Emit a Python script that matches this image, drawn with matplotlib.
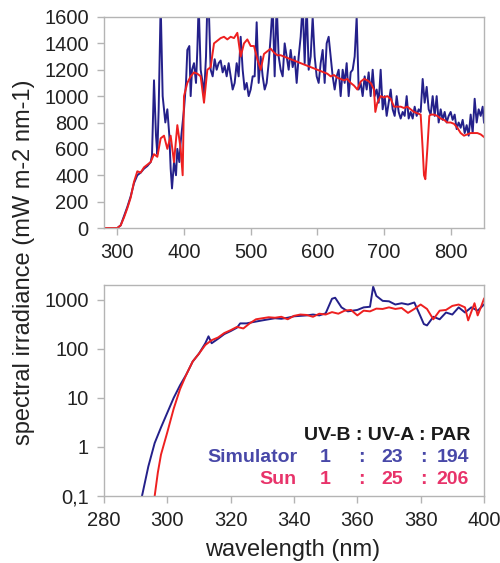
import matplotlib
matplotlib.use("Agg")
import matplotlib.pyplot as plt
from matplotlib.ticker import FixedLocator, FixedFormatter

plt.rcParams['font.family'] = ['Liberation Sans', 'DejaVu Sans']

# --- widmo pelne (280-850 nm), mW m-2 nm-1 ---
sun_wl = [280, 285, 290, 295, 300, 305, 310, 315, 320, 325, 330, 335, 340, 345, 350,
          355, 360, 365, 370, 375, 380, 385, 390, 395, 398, 400, 405, 410, 415, 420,
          425, 430, 435, 440, 445, 450, 455, 460, 465, 470, 475, 480, 485, 490, 495,
          500, 505, 510, 515, 520, 525, 530, 535, 540, 545, 550, 555, 560, 565, 570,
          575, 580, 585, 590, 595, 600, 605, 610, 615, 620, 625, 630, 635, 640, 645,
          650, 655, 660, 665, 670, 675, 680, 685, 687, 690, 695, 700, 705, 710, 715,
          720, 725, 730, 735, 740, 745, 750, 755, 758, 760, 762, 765, 768, 770, 775,
          780, 785, 790, 795, 800, 805, 810, 815, 820, 825, 830, 835, 840, 845, 850]
sun_top = [0, 0, 0, 0, 0, 20, 80, 150, 230, 350, 430, 420, 460, 480, 500,
           560, 540, 680, 700, 600, 700, 500, 780, 600, 400, 1000, 1100, 1150, 1180, 1170,
           1150, 950, 1200, 1220, 1400, 1420, 1440, 1450, 1430, 1450, 1440, 1480, 1300, 1400, 1430,
           1380, 1380, 1280, 1200, 1320, 1340, 1360, 1330, 1310, 1310, 1300, 1290, 1280, 1270, 1260,
           1250, 1240, 1230, 1220, 1210, 1200, 1190, 1180, 1170, 1150, 1160, 1140, 1130, 1120, 1130,
           1100, 1080, 1050, 1110, 1130, 1120, 1100, 1050, 880, 950, 1000, 990, 1000, 980, 920,
           920, 920, 910, 920, 900, 880, 870, 860, 600, 400, 370, 600, 850, 860, 860,
           850, 830, 820, 800, 800, 790, 760, 720, 700, 710, 720, 720, 720, 710, 690]

sim_wl = [280, 300, 305, 310, 315, 320, 325, 330, 335, 340, 345, 350, 352, 355, 358,
          360, 362, 365, 368, 370, 372, 375, 378, 380, 382, 385, 388, 390, 393, 395,
          398, 400, 403, 405, 408, 410, 412, 415, 418, 420, 422, 425, 428, 430, 433,
          435, 437, 440, 443, 446, 449, 452, 455, 458, 461, 464, 467, 470, 473, 476,
          479, 482, 485, 488, 491, 494, 497, 500, 503, 506, 509, 512, 515, 518, 521,
          524, 527, 530, 533, 536, 539, 542, 545, 548, 551, 554, 557, 560, 563, 566,
          569, 572, 575, 578, 581, 584, 587, 590, 593, 596, 599, 602, 605, 608, 611,
          614, 617, 620, 623, 626, 629, 632, 635, 638, 641, 644, 647, 650, 653, 656,
          659, 662, 665, 668, 671, 674, 677, 680, 683, 686, 689, 692, 695, 698, 701,
          704, 707, 710, 713, 716, 719, 722, 725, 728, 731, 734, 737, 740, 743, 746,
          749, 752, 755, 758, 761, 764, 767, 770, 773, 776, 779, 782, 785, 788, 791,
          794, 797, 800, 803, 806, 809, 812, 815, 818, 821, 824, 827, 830, 833, 836,
          839, 842, 845, 848, 850]
sim_top = [0, 0, 20, 90, 160, 240, 340, 400, 420, 450, 470, 500, 550, 1120, 700,
           560, 900, 1700, 1000, 900, 800, 900, 700, 450, 300, 500, 400, 600, 500, 650,
           800, 900, 1100, 1350, 1380, 1000, 1200, 1250, 1100, 1350, 1700, 1200, 1100, 1000, 1300,
           1700, 1700, 1200, 1150, 1280, 1200, 1250, 1270, 1180, 1230, 1150, 1250, 1150, 1050, 1100,
           1250, 1150, 1450, 1200, 1050, 1100, 1000, 1050, 1150, 1150, 1560, 1100, 1300, 1150, 1050,
           1100, 1250, 1450, 1700, 1150, 1700, 1300, 1200, 1150, 1400, 1300, 1200, 1350, 1220, 1300,
           1100, 1300, 1450, 1700, 1250, 1700, 1200, 1300, 1600, 1300, 1150, 1100, 1250, 1350, 1100,
           1400, 1450, 1300, 1150, 1050, 1150, 1200, 1000, 1200, 1100, 1250, 1000, 1180, 1200, 1300,
           1600, 1050, 1100, 1000, 1150, 1050, 1180, 1000, 1200, 1000, 1050, 950, 1200, 900, 1000,
           850, 950, 1050, 900, 850, 1000, 880, 830, 880, 850, 1000, 830, 880, 830, 920,
           850, 900, 880, 1130, 950, 1070, 900, 860, 1000, 850, 1000, 800, 900, 820, 880,
           800, 850, 880, 820, 860, 750, 800, 760, 820, 720, 780, 700, 860, 720, 980,
           800, 900, 850, 920, 800]

# --- UV (280-400 nm), skala log ---
sim_uv_wl = [292, 294, 296, 298, 300, 302, 304, 306, 308, 310, 312, 313, 314, 316, 318,
             320, 322, 323, 325, 327, 330, 332, 334, 336, 338, 340, 342, 344, 346, 348,
             350, 352, 353, 355, 357, 360, 362, 364, 365, 366, 368, 370, 372, 374, 376,
             378, 380, 381, 382, 384, 386, 388, 390, 392, 394, 396, 398, 400]
sim_uv = [0.1, 0.4, 1.2, 2.5, 5, 10, 18, 30, 55, 80, 130, 180, 130, 160, 200,
          230, 270, 330, 330, 350, 380, 400, 420, 410, 430, 460, 470, 480, 500, 480,
          530, 1050, 1100, 700, 580, 620, 700, 720, 1850, 1200, 950, 930, 800, 850, 800,
          880, 450, 320, 300, 450, 400, 550, 500, 700, 550, 700, 600, 800]

sun_uv_wl = [296, 297, 298, 300, 302, 304, 306, 308, 310, 312, 314, 316, 318, 320, 322,
             324, 326, 328, 330, 332, 334, 336, 338, 340, 342, 344, 346, 348, 350, 352,
             354, 356, 358, 360, 362, 364, 366, 368, 370, 372, 374, 376, 378, 380, 382,
             384, 386, 388, 390, 392, 394, 395, 397, 398, 399, 400]
sun_uv = [0.1, 0.3, 0.7, 2, 6, 15, 30, 55, 80, 120, 150, 170, 210, 240, 280,
          260, 330, 400, 420, 440, 430, 450, 400, 470, 500, 490, 450, 520, 500, 560,
          520, 600, 620, 480, 600, 580, 660, 650, 700, 650, 680, 540, 650, 800, 650,
          400, 600, 620, 750, 800, 700, 380, 850, 480, 700, 1050]

# --- stosunki pasm ---
ratio_header = "UV-B : UV-A : PAR"
sim_ratio = ["1", "23", "194"]
sun_ratio = ["1", "25", "206"]

c_sim = "#24208a"
c_sun = "#ee2020"
c_sim_txt = "#4848a8"
c_sun_txt = "#e8336a"
c_frame = "#b4b4b4"

W, H = 500, 563
fig = plt.figure(figsize=(W / 100, H / 100), dpi=100)

def styl(ax):
    for s in ax.spines.values():
        s.set_color(c_frame)
        s.set_linewidth(1.0)
    ax.tick_params(which="both", direction="out", color=c_frame, length=5, pad=6,
                   labelsize=14.5, labelcolor="#222222", width=1.0)
    ax.tick_params(which="minor", length=0)

# gorny panel
ax1 = fig.add_axes([104 / W, 1 - 228 / H, 380 / W, 211 / H])
ax1.plot(sim_wl, sim_top, color=c_sim, lw=1.4)
ax1.plot(sun_wl, sun_top, color=c_sun, lw=1.4)
ax1.set_xlim(280, 850)
ax1.set_ylim(0, 1600)
ax1.set_xticks([300, 400, 500, 600, 700, 800])
ax1.set_yticks(range(0, 1601, 200))
styl(ax1)

# dolny panel
ax2 = fig.add_axes([104 / W, 1 - 496 / H, 380 / W, 211 / H])
ax2.plot(sim_uv_wl, sim_uv, color=c_sim, lw=1.4)
ax2.plot(sun_uv_wl, sun_uv, color=c_sun, lw=1.4)
ax2.set_yscale("log")
ax2.set_xlim(280, 400)
ax2.set_ylim(0.1, 2000)
ax2.set_xticks(range(280, 401, 20))
ax2.yaxis.set_major_locator(FixedLocator([0.1, 1, 10, 100, 1000]))
ax2.yaxis.set_major_formatter(FixedFormatter(["0,1", "1", "10", "100", "1000"]))
ax2.yaxis.set_minor_locator(FixedLocator([]))
styl(ax2)

fig.text(24 / W, 1 - 262 / H, "spectral irradiance (mW m-2 nm-1)", rotation=90,
         ha="center", va="center", fontsize=17, color="#222222")
fig.text(293 / W, 1 - 556 / H, "wavelength (nm)", ha="center", va="baseline",
         fontsize=17, color="#222222")

# tabela stosunkow
fs = 14
fig.text(470 / W, 1 - 435 / H, ratio_header, ha="right", va="center",
         fontsize=fs, fontweight="bold", color="#1a1a1a")
cols = [325, 392, 453]
for label, vals, col, y in [("Simulator", sim_ratio, c_sim_txt, 457),
                            ("Sun", sun_ratio, c_sun_txt, 479)]:
    fig.text(297 / W, 1 - y / H, label, ha="right", va="center",
             fontsize=fs, fontweight="bold", color=col)
    for x, v in zip(cols, vals):
        fig.text(x / W, 1 - y / H, v, ha="center", va="center",
                 fontsize=fs, fontweight="bold", color=col)
    for x in (361, 423):
        fig.text(x / W, 1 - y / H, ":", ha="center", va="center",
                 fontsize=fs, fontweight="bold", color=col)

fig.savefig("out.png", dpi=100)
